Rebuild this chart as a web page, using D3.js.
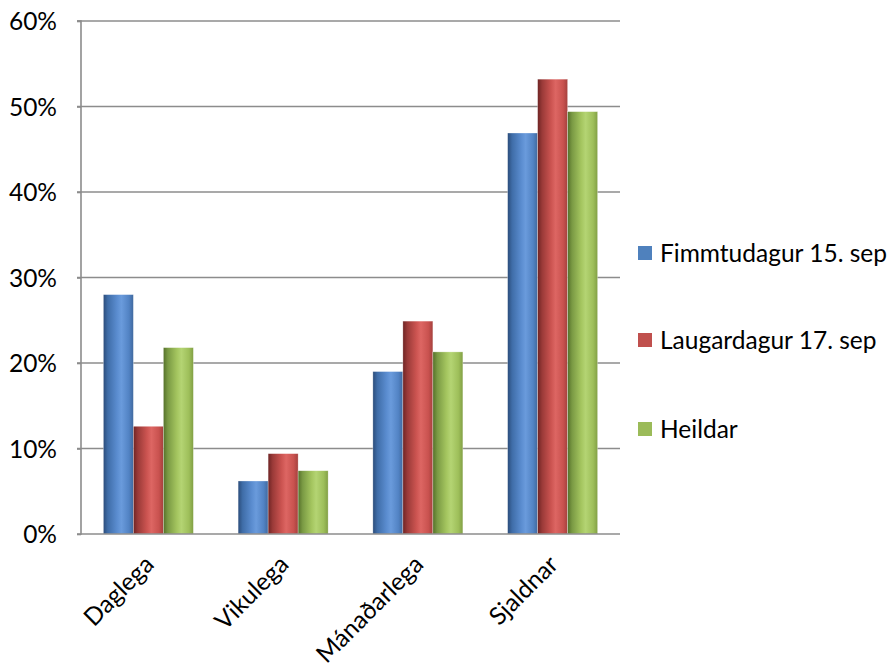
<!DOCTYPE html>
<html>
<head>
<meta charset="utf-8">
<script src="https://cdn.jsdelivr.net/npm/d3@7"></script>
<style>
  html, body { margin: 0; padding: 0; background: #fff; }
  svg { display: block; }
  text { font-family: Lato, "Open Sans", sans-serif; fill: #000; }
</style>
</head>
<body>
<svg id="chart" width="891" height="664"></svg>
<script>
const categories = ["Daglega", "Vikulega", "Mánaðarlega", "Sjaldnar"];
const seriesNames = ["Fimmtudagur 15. sep", "Laugardagur 17. sep", "Heildar"];
const fimmtudagur = [28.0, 6.2, 19.0, 46.9];
const laugardagur = [12.6, 9.4, 24.9, 53.2];
const heildar = [21.8, 7.4, 21.3, 49.4];
const yTicks = [0, 10, 20, 30, 40, 50, 60];

const seriesValues = [fimmtudagur, laugardagur, heildar];
const colors = ["#4f81bd", "#c0504d", "#9bbb59"];
const grads = [
  ["#2b4c7a", "#3f6da8", "#5a8ccf", "#6a9bdc", "#5283c4", "#40699e"],
  ["#6e2424", "#9a3a38", "#cc5451", "#dd6663", "#c9524f", "#a4403d"],
  ["#55702a", "#7a9a44", "#a4c55f", "#b4d473", "#9ebf5a", "#819f44"]
];
const FS = "24.5px";

const svg = d3.select("#chart");
const margin = { left: 81, right: 271, top: 21, bottom: 130 };
const W = 891, H = 664;
const x0 = margin.left, x1 = W - margin.right;
const yTop = margin.top, yBot = 534;

const defs = svg.append("defs");
grads.forEach((g, i) => {
  const lg = defs.append("linearGradient").attr("id", "g" + i)
    .attr("x1", 0).attr("x2", 1).attr("y1", 0).attr("y2", 0);
  const offs = [0, 0.15, 0.45, 0.6, 0.85, 1];
  g.forEach((c, k) => lg.append("stop").attr("offset", offs[k]).attr("stop-color", c));
});

const x = d3.scaleBand().domain(categories).range([x0, x1]).paddingInner(0).paddingOuter(0);
const y = d3.scaleLinear().domain([0, 60]).range([yBot, yTop]);
const groupFrac = 90 / 134.75;
const xs = d3.scaleBand().domain(d3.range(seriesNames.length))
  .range([0, x.bandwidth() * groupFrac]).padding(0);

// gridlines
svg.append("g").selectAll("line").data(yTicks.filter(t => t > 0)).join("line")
  .attr("x1", x0 - 4).attr("x2", x1)
  .attr("y1", d => y(d)).attr("y2", d => y(d))
  .attr("stroke", "#8c8c8c").attr("stroke-width", 1.6);

// bars
const offset = (x.bandwidth() - x.bandwidth() * groupFrac) / 2;
seriesValues.forEach((vals, si) => {
  svg.append("g").selectAll("rect").data(vals).join("rect")
    .attr("x", (d, i) => x(categories[i]) + offset + xs(si))
    .attr("width", xs.bandwidth())
    .attr("y", d => y(d))
    .attr("height", d => yBot - y(d))
    .attr("fill", "url(#g" + si + ")")
    .attr("stroke", "rgba(255,255,255,0.5)").attr("stroke-width", 0.6);
});

// y axis
const yAxis = d3.axisLeft(y).tickValues(yTicks).tickFormat(d => d + "%").tickSize(4).tickPadding(20);
const ya = svg.append("g").attr("transform", `translate(${x0},0)`).call(yAxis);
ya.select(".domain").attr("stroke", "#8c8c8c").attr("stroke-width", 1.6).attr("d", `M-4,${yTop}H0V${yBot}H-4`);
ya.selectAll(".tick line").attr("stroke", "#8c8c8c").attr("stroke-width", 1.6);
ya.selectAll(".tick text").attr("font-size", FS).attr("font-family", "Lato, sans-serif").attr("fill", "#000").attr("dy", "0.36em");

// x axis line
svg.append("line").attr("x1", x0).attr("x2", x1).attr("y1", yBot).attr("y2", yBot)
  .attr("stroke", "#8c8c8c").attr("stroke-width", 1.6);

// x labels
svg.append("g").selectAll("text").data(categories).join("text")
  .attr("transform", d => `translate(${x(d) + x.bandwidth() / 2 + 7},566) rotate(-45)`)
  .attr("text-anchor", "end")
  .attr("font-size", FS)
  .text(d => d);

// legend
const legY = [253, 340, 429];
const leg = svg.append("g");
seriesNames.forEach((n, i) => {
  leg.append("rect").attr("x", 638).attr("y", legY[i] - 7).attr("width", 14).attr("height", 14)
    .attr("fill", colors[i]);
  leg.append("text").attr("x", 660).attr("y", legY[i]).attr("dy", "0.36em")
    .attr("font-size", FS).text(n);
});
</script>
</body>
</html>
